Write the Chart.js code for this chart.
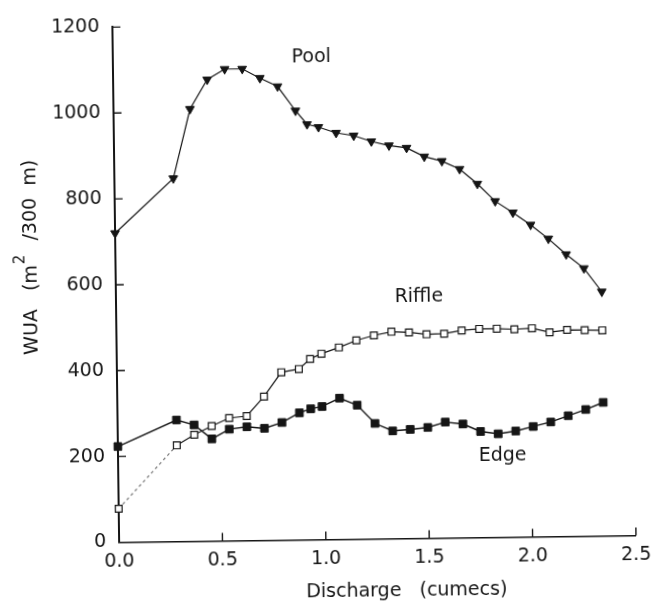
<!DOCTYPE html>
<html>
<head>
<meta charset="utf-8">
<title>WUA vs discharge</title>
<script src="https://cdn.jsdelivr.net/npm/chart.js@4.4.1/dist/chart.umd.min.js"></script>
<style>
  html, body { margin: 0; padding: 0; background: #fff; overflow: hidden; }
  #wrap { width: 656px; height: 602px; }
  /* the plotted sheet sits slightly askew */
  #wua { display: block; transform: rotate(-0.75deg); transform-origin: 50% 50%; }
</style>
</head>
<body>
<div id="wrap"><canvas id="wua" width="656" height="602"></canvas></div>
<script>
// discharge (cumecs) shared by all three habitat series
const discharge = [0, 0.285, 0.37, 0.455, 0.54, 0.625, 0.71, 0.795, 0.88, 0.935, 0.99,
  1.075, 1.16, 1.245, 1.33, 1.415, 1.5, 1.585, 1.67, 1.755, 1.84, 1.925, 2.01,
  2.095, 2.18, 2.265, 2.35];

// weighted usable area, m2 per 300 m
const poolWUA = [720, 846, 1007, 1075, 1099, 1099, 1077, 1057, 1000, 968, 961,
  947, 940, 926, 916, 910, 889, 878, 859, 824, 783, 756, 727,
  694, 657, 624, 569];
const riffleWUA = [78, 224, 248, 268, 286, 290, 335, 391, 398, 421, 433,
  447, 463, 474, 482, 480, 475, 476, 483, 486, 486, 484, 486,
  476, 481, 480, 479];
const edgeWUA = [223, 283, 271, 238, 260, 265, 261, 274, 296, 305, 310,
  329, 312, 269, 251, 254, 258, 270, 265, 247, 241, 247, 257,
  267, 281, 295, 311];

const xTicks = [0, 0.5, 1, 1.5, 2, 2.5];
const yTicks = [0, 200, 400, 600, 800, 1000, 1200];

// in-plot series names and where they sit (data units)
const seriesNames = ["Pool", "Riffle", "Edge"];
const nameAtX = [0.96, 1.465, 1.86];
const nameAtY = [1125, 562, 190];

const INK = "#151515";
const FONT = '"DejaVu Sans", sans-serif';

const toPoints = vals => vals.map((v, i) => ({ x: discharge[i], y: v }));

// white sheet, inward tick marks, series names and axis titles
const decorations = {
  id: "decorations",
  beforeDraw(chart) {
    const ctx = chart.ctx;
    ctx.save();
    ctx.fillStyle = "#fff";
    ctx.fillRect(0, 0, chart.width, chart.height);
    ctx.restore();
  },
  afterDraw(chart) {
    const { ctx, chartArea: a, scales: { x, y } } = chart;
    ctx.save();

    ctx.strokeStyle = INK;
    ctx.lineWidth = 1.4;
    ctx.beginPath();
    xTicks.slice(1).forEach(v => {
      const px = x.getPixelForValue(v);
      ctx.moveTo(px, a.bottom);
      ctx.lineTo(px, a.bottom - 8);
    });
    yTicks.slice(1).forEach(v => {
      const py = y.getPixelForValue(v);
      ctx.moveTo(a.left, py);
      ctx.lineTo(a.left + 8, py);
    });
    ctx.stroke();

    ctx.fillStyle = INK;
    ctx.font = `19px ${FONT}`;
    ctx.textAlign = "center";
    ctx.textBaseline = "middle";
    seriesNames.forEach((n, i) => {
      ctx.fillText(n, x.getPixelForValue(nameAtX[i]), y.getPixelForValue(nameAtY[i]));
    });

    ctx.fillText("Discharge   (cumecs)", a.left + 287, a.bottom + 53);

    // y title with a raised "2"
    ctx.translate(a.left - 84, a.top + 229);
    ctx.rotate(-Math.PI / 2);
    const partA = "WUA   (m", sup = "2", partB = "  /300  m)";
    ctx.font = `19px ${FONT}`;
    const wA = ctx.measureText(partA).width;
    const wB = ctx.measureText(partB).width;
    ctx.font = `15px ${FONT}`;
    const wS = ctx.measureText(sup).width;
    let sx = -(wA + wS + wB + 3) / 2;
    ctx.textAlign = "left";
    ctx.font = `19px ${FONT}`;
    ctx.fillText(partA, sx, 0);
    sx += wA + 1;
    ctx.font = `15px ${FONT}`;
    ctx.fillText(sup, sx, -11);
    sx += wS + 2;
    ctx.font = `19px ${FONT}`;
    ctx.fillText(partB, sx, 0);

    ctx.restore();
  }
};

const tickFont = { family: FONT, size: 19 };

new Chart(document.getElementById("wua"), {
  type: "line",
  data: {
    datasets: [
      {
        label: "Pool",
        data: toPoints(poolWUA),
        borderColor: INK,
        borderWidth: 1.2,
        pointStyle: "triangle",
        pointRotation: 180,
        pointRadius: 5,
        pointBackgroundColor: INK,
        pointBorderColor: INK,
        pointBorderWidth: 1,
        tension: 0,
        clip: false
      },
      {
        label: "Riffle",
        data: toPoints(riffleWUA),
        borderColor: INK,
        borderWidth: 1.2,
        pointStyle: "rect",
        pointRadius: 4.8,
        pointBackgroundColor: "#fff",
        pointBorderColor: INK,
        pointBorderWidth: 1.2,
        tension: 0,
        clip: false,
        segment: {
          borderDash: c => c.p0DataIndex === 0 ? [3, 3] : undefined,
          borderColor: c => c.p0DataIndex === 0 ? "#777" : undefined
        }
      },
      {
        label: "Edge",
        data: toPoints(edgeWUA),
        borderColor: INK,
        borderWidth: 1.4,
        pointStyle: "rect",
        pointRadius: 5.4,
        pointBackgroundColor: INK,
        pointBorderColor: INK,
        pointBorderWidth: 1,
        tension: 0,
        clip: false
      }
    ]
  },
  options: {
    responsive: false,
    animation: false,
    events: [],
    layout: { padding: { top: 16, right: 18, left: 0, bottom: 0 } },
    plugins: {
      legend: { display: false },
      tooltip: { enabled: false }
    },
    scales: {
      x: {
        type: "linear",
        min: 0,
        max: 2.5,
        afterBuildTicks: s => { s.ticks = xTicks.map(v => ({ value: v })); },
        afterFit: s => { s.height = 62.5; },
        grid: { display: false, drawTicks: false },
        border: { display: true, color: INK, width: 1.6 },
        ticks: {
          padding: 8,
          color: INK,
          font: tickFont,
          maxRotation: 0,
          autoSkip: false,
          callback: v => Number(v).toFixed(1)
        }
      },
      y: {
        type: "linear",
        min: 0,
        max: 1200,
        afterBuildTicks: s => { s.ticks = yTicks.map(v => ({ value: v })); },
        afterFit: s => { s.width = 116; },
        grid: { display: false, drawTicks: false },
        border: { display: true, color: INK, width: 2 },
        ticks: {
          padding: 13,
          color: INK,
          font: tickFont,
          autoSkip: false,
          callback: v => String(v)
        }
      }
    }
  },
  plugins: [decorations]
});
</script>
</body>
</html>
